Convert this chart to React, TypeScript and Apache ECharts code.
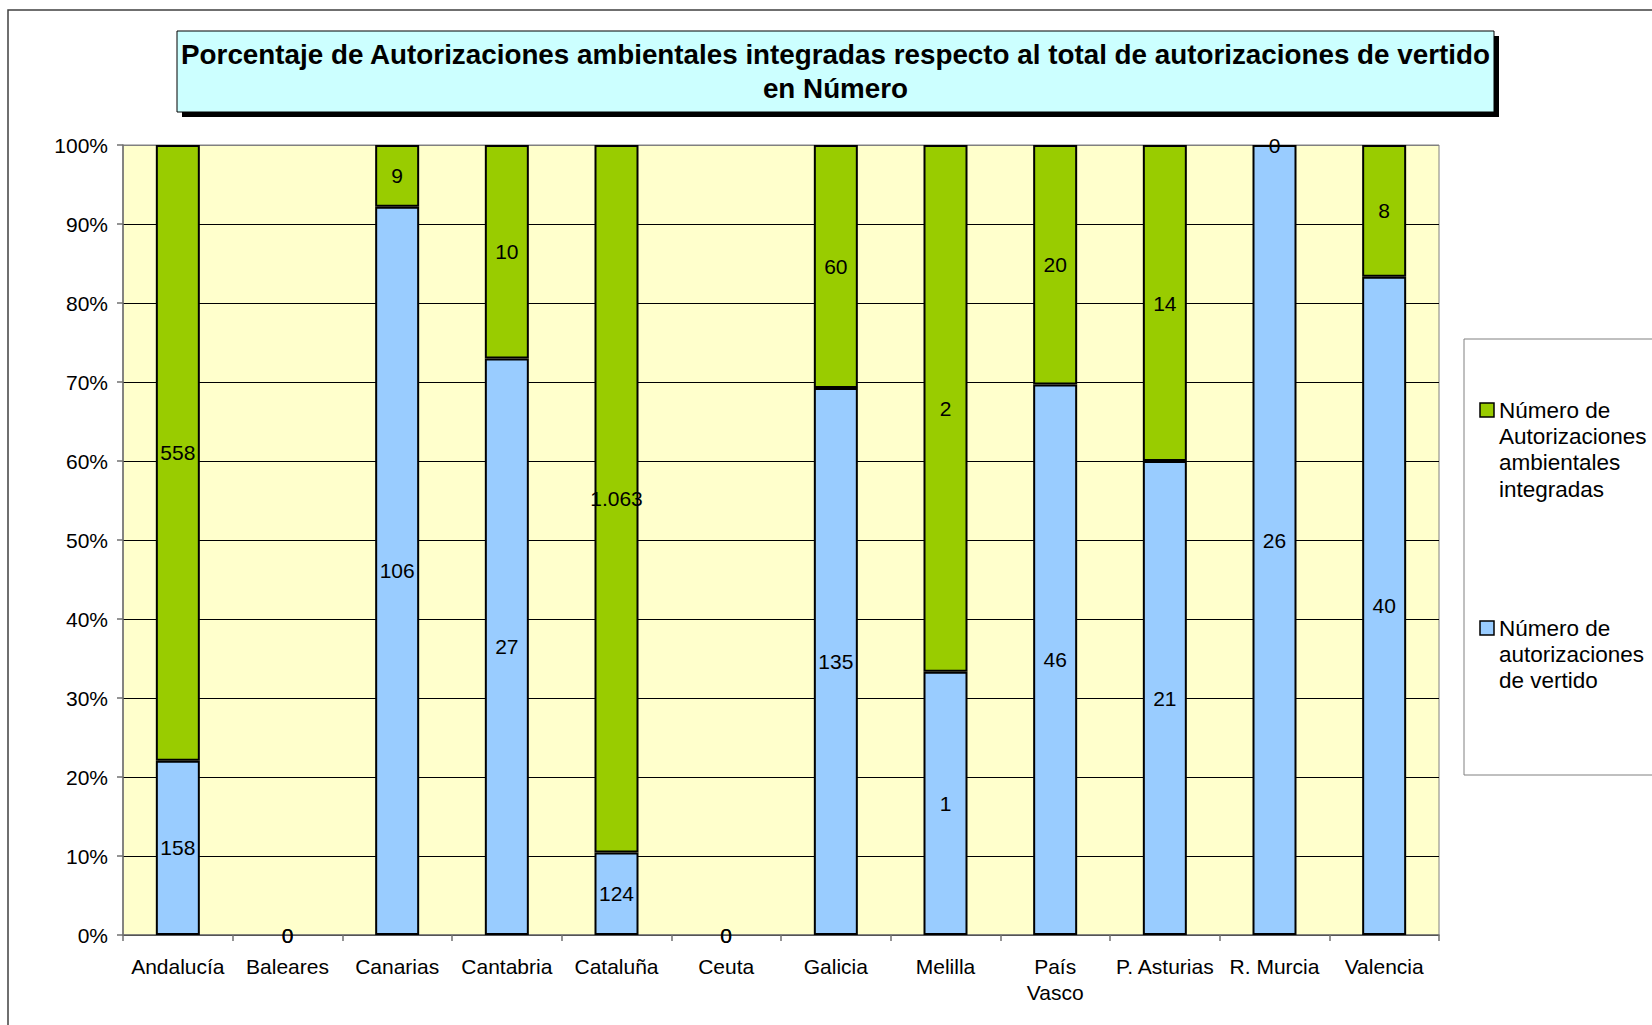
import React, { useEffect, useRef } from "react";
import * as echarts from "echarts";

const categories = [
  "Andalucía", "Baleares", "Canarias", "Cantabria", "Cataluña", "Ceuta",
  "Galicia", "Melilla", "País Vasco", "P. Asturias", "R. Murcia", "Valencia",
];
const vertido = [158, 0, 106, 27, 124, 0, 135, 1, 46, 21, 26, 40];
const integradas = [558, 0, 9, 10, 1063, 0, 60, 2, 20, 14, 0, 8];
const seriesNames = [
  "Número de autorizaciones de vertido",
  "Número de Autorizaciones ambientales integradas",
];
const titleLines = [
  "Porcentaje de Autorizaciones ambientales integradas respecto al total de autorizaciones de vertido",
  "en Número",
];

const FONT = "'Liberation Sans', Arial, Helvetica, sans-serif";
const BLUE = "#99CCFF";
const GREEN = "#99CC00";

const fmt = (v: number) => String(v).replace(/\B(?=(\d{3})+(?!\d))/g, ".");

export default function App() {
  const ref = useRef<HTMLDivElement>(null);
  useEffect(() => {
    if (!ref.current) return;
    const chart = echarts.init(ref.current, undefined, { renderer: "svg" });
    const totals = vertido.map((v, i) => v + integradas[i]);
    const mk = (arr: number[]) =>
      arr.map((v, i) => ({
        value: totals[i] > 0 ? (v / totals[i]) * 100 : 0,
        raw: v,
        itemStyle: v === 0 ? { borderWidth: 0 } : undefined,
      }));
    const label = {
      show: true,
      position: "inside",
      color: "#000",
      fontSize: 21,
      fontFamily: FONT,
      formatter: (p: any) => fmt(p.data.raw),
    };
    const legendItems = [
      { name: seriesNames[1], color: GREEN, y: 410 },
      { name: seriesNames[0], color: BLUE, y: 628 },
    ];
    chart.setOption({
      animation: false,
      backgroundColor: "#fff",
      textStyle: { fontFamily: FONT },
      grid: {
        left: 123, right: 213, top: 145, bottom: 90,
        show: true, backgroundColor: "#FFFFCC", borderColor: "#808080", borderWidth: 1,
      },
      xAxis: {
        type: "category",
        data: categories,
        axisLine: { lineStyle: { color: "#707070", width: 1.5 } },
        axisTick: { show: true, length: 6, lineStyle: { color: "#707070", width: 1.5 } },
        axisLabel: {
          color: "#000", fontSize: 21, fontFamily: FONT, margin: 18, lineHeight: 26,
          interval: 0,
          formatter: (v: string) => (v === "País Vasco" ? "País\nVasco" : v),
        },
      },
      yAxis: {
        type: "value",
        min: 0, max: 100, interval: 10,
        axisLine: { show: true, lineStyle: { color: "#707070", width: 1.5 } },
        axisTick: { show: true, length: 6, lineStyle: { color: "#707070", width: 1.5 } },
        axisLabel: { color: "#000", fontSize: 21, fontFamily: FONT, margin: 15, formatter: "{value}%" },
        splitLine: {
          show: true,
          lineStyle: {
            color: ["#000", "#000", "#000", "#000", "#000", "#000", "#000", "#000", "#000", "#000", "#808080"],
            width: 1,
          },
        },
      },
      series: [
        {
          name: seriesNames[0], type: "bar", stack: "t", barWidth: 44,
          itemStyle: { color: BLUE, borderColor: "#000", borderWidth: 2 },
          label, data: mk(vertido),
        },
        {
          name: seriesNames[1], type: "bar", stack: "t", barWidth: 44,
          itemStyle: { color: GREEN, borderColor: "#000", borderWidth: 2 },
          label, data: mk(integradas),
        },
      ],
      graphic: [
        {
          type: "rect", z: 100, silent: true,
          shape: { x: 8, y: 10, width: 1800, height: 1200 },
          style: { fill: "none", stroke: "#404040", lineWidth: 1.5 },
        },
        {
          type: "rect", z: 100,
          shape: { x: 182, y: 36, width: 1317, height: 81 },
          style: { fill: "#000" },
        },
        {
          type: "rect", z: 101,
          shape: { x: 177, y: 31, width: 1317, height: 81 },
          style: { fill: "#CCFFFF", stroke: "#000", lineWidth: 1 },
        },
        {
          type: "text", z: 102, x: 835.5, y: 71.7,
          style: {
            text: titleLines.join("\n"), align: "center", verticalAlign: "middle",
            font: `bold 27.8px ${FONT}`, lineHeight: 33.7, fill: "#000",
          },
        },
        {
          type: "rect", z: 100,
          shape: { x: 1464, y: 339, width: 300, height: 436 },
          style: { fill: "#fff", stroke: "#808080", lineWidth: 1 },
        },
        ...legendItems.flatMap((it) => [
          {
            type: "rect", z: 101,
            shape: { x: 1480, y: it.y - 7, width: 14, height: 14 },
            style: { fill: it.color, stroke: "#000", lineWidth: 1.5 },
          },
          {
            type: "text", z: 101, x: 1499, y: it.y - 13,
            style: {
              text: it.name, width: 158, overflow: "break",
              font: `22.5px ${FONT}`, lineHeight: 26.3, fill: "#000",
              verticalAlign: "top", align: "left",
            },
          },
        ]),
      ],
    });
    return () => chart.dispose();
  }, []);
  return (
    <div
      ref={ref}
      style={{ position: "fixed", left: 0, top: 0, width: 1652, height: 1025 }}
    />
  );
}
